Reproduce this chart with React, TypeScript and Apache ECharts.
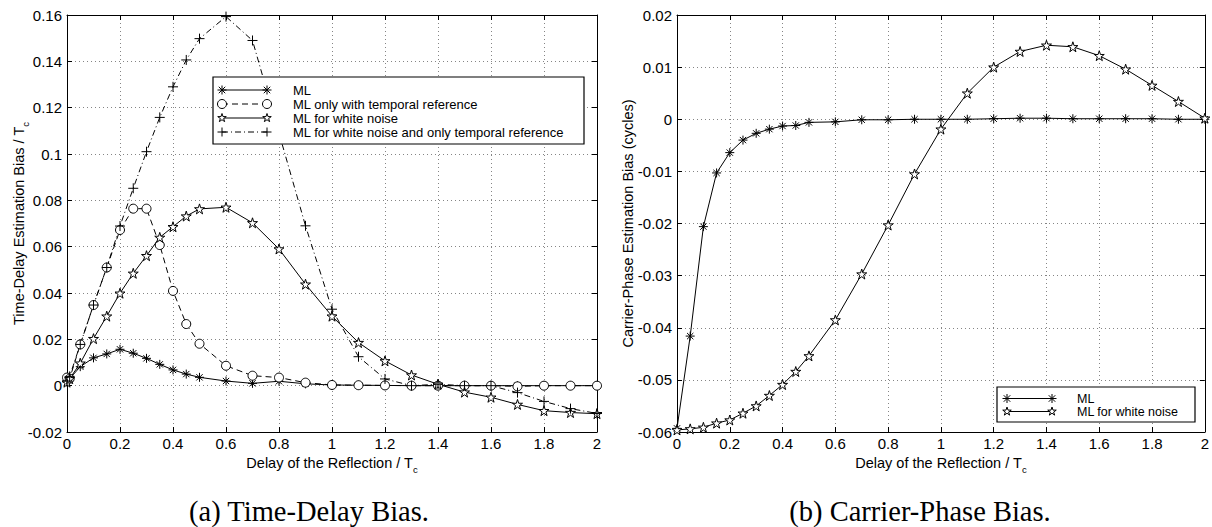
import { useEffect, useRef } from "react";
import * as echarts from "echarts";

// ---------- data ----------
const delayA = [0, 0.01, 0.05, 0.1, 0.15, 0.2, 0.25, 0.3, 0.35, 0.4, 0.45, 0.5, 0.6, 0.7, 0.8, 0.9, 1.0, 1.1, 1.2, 1.3, 1.4, 1.5, 1.6, 1.7, 1.8, 1.9, 2.0];
const mlA = [0.0015, 0.003, 0.0082, 0.012, 0.0137, 0.0157, 0.014, 0.0118, 0.0092, 0.0068, 0.005, 0.0036, 0.002, 0.001, 0.0019, 0.0008, 0.0003, 0.0002, 0.0001, 0, 0, 0, 0, 0, 0, 0, 0];
const tempRefA = [0.0035, 0.003, 0.0178, 0.0348, 0.051, 0.0672, 0.0764, 0.0764, 0.0607, 0.0409, 0.0266, 0.0181, 0.0086, 0.0043, 0.0035, 0.0013, 0.0003, 0.0002, 0.0001, 0, 0, 0, 0, -0.0003, 0, 0, 0];
const whiteA = [0.0015, 0.003, 0.0097, 0.0203, 0.03, 0.0399, 0.0485, 0.0561, 0.064, 0.0686, 0.0732, 0.0763, 0.077, 0.0703, 0.059, 0.0438, 0.03, 0.0186, 0.0107, 0.0046, 0.0006, -0.0028, -0.005, -0.0081, -0.0108, -0.0116, -0.0121];
const whiteTempA = [0.002, 0.004, 0.0178, 0.0348, 0.051, 0.0689, 0.0852, 0.101, 0.1158, 0.129, 0.1406, 0.1498, 0.1593, 0.149, 0.109, 0.069, 0.033, 0.0125, 0.0029, 0, 0.0006, 0, 0, -0.003, -0.0068, -0.0099, -0.012];

const delayB = [0, 0.05, 0.1, 0.15, 0.2, 0.25, 0.3, 0.35, 0.4, 0.45, 0.5, 0.6, 0.7, 0.8, 0.9, 1.0, 1.1, 1.2, 1.3, 1.4, 1.5, 1.6, 1.7, 1.8, 1.9, 2.0];
const mlB = [-0.0593, -0.0416, -0.0206, -0.0103, -0.0064, -0.004, -0.0027, -0.0019, -0.0013, -0.0012, -0.0006, -0.0005, -0.0001, -0.0001, 0, 0, 0, 0.0001, 0.0002, 0.0002, 0.0001, 0.0001, 0.0001, 0.0001, 0, 0];
const whiteB = [-0.0596, -0.0594, -0.0591, -0.0583, -0.0577, -0.0564, -0.055, -0.053, -0.0509, -0.0484, -0.0454, -0.0385, -0.0297, -0.0203, -0.0105, -0.0019, 0.005, 0.01, 0.013, 0.0142, 0.0139, 0.0122, 0.0096, 0.0065, 0.0034, 0.0002];

const namesA = ["ML", "ML only with temporal reference", "ML for white noise", "ML for white noise and only temporal reference"];
const namesB = ["ML", "ML for white noise"];
const xAxisTitle = "Delay of the Reflection / T{s|c}";
const yTitleA = "Time-Delay Estimation Bias / T{s|c}";
const yTitleB = "Carrier-Phase Estimation Bias (cycles)";
const captionA = "(a) Time-Delay Bias.";
const captionB = "(b) Carrier-Phase Bias.";

// ---------- symbols ----------
const ASTERISK = "path://M5 0L5 10M0 5L10 5M1.5 1.5L8.5 8.5M1.5 8.5L8.5 1.5";
const PLUS = "path://M5 0L5 10M0 5L10 5";
const STAR = "path://M50 0L61.23 34.55L97.55 34.55L68.16 55.9L79.39 90.45L50 69.1L20.61 90.45L31.84 55.9L2.45 34.55L38.77 34.55Z";

const FONT = "'Liberation Sans', Arial, Helvetica, sans-serif";
const SERIF = "'Liberation Serif', 'Times New Roman', serif";
const pairs = (xs: number[], ys: number[]) => xs.map((x, i) => [x, ys[i]]);
const fmt = (v: number) => String(+v.toFixed(4));

const DASH = [6, 4];
const DASHDOT = [6, 3, 1, 3];

function mkSeries(name: string, gi: number, xs: number[], ys: number[], symbol: string, size: number, dash?: number[]) {
  return {
    type: "line",
    name,
    xAxisIndex: gi * 2,
    yAxisIndex: gi * 2,
    data: pairs(xs, ys),
    symbol,
    symbolSize: size,
    showAllSymbol: true,
    lineStyle: { color: "#000", width: 1, type: dash ? dash : "solid" },
    itemStyle: { color: "#fff", borderColor: "#000", borderWidth: 1 },
    emphasis: { disabled: true },
    silent: true,
  };
}

const nameStyle = {
  color: "#000",
  fontSize: 14.5,
  fontFamily: FONT,
  rich: { s: { fontSize: 9.5, fontFamily: FONT, color: "#000", padding: [12, 0, 0, 0] } },
};

function axisX(gi: number, top: boolean) {
  return {
    type: "value",
    gridIndex: gi,
    position: top ? "top" : "bottom",
    min: 0,
    max: 2,
    interval: 0.2,
    axisLine: { show: true, onZero: false, lineStyle: { color: "#000", width: 1 } },
    axisTick: { show: true, inside: true, length: 5, lineStyle: { color: "#000" } },
    axisLabel: top ? { show: false } : { show: true, color: "#000", fontSize: 15, fontFamily: FONT, margin: 4, formatter: fmt },
    splitLine: top ? { show: false } : { show: true, lineStyle: { color: "#666", width: 0.8, type: [1, 3] } },
    name: top ? "" : xAxisTitle,
    nameLocation: "middle",
    nameGap: 20,
    nameMoveOverlap: false,
    nameTextStyle: nameStyle,
  };
}

function axisY(gi: number, right: boolean, min: number, max: number, interval: number, name: string, gap: number) {
  return {
    type: "value",
    gridIndex: gi,
    position: right ? "right" : "left",
    min,
    max,
    interval,
    axisLine: { show: true, onZero: false, lineStyle: { color: "#000", width: 1 } },
    axisTick: { show: true, inside: true, length: 5, lineStyle: { color: "#000" } },
    axisLabel: right ? { show: false } : { show: true, color: "#000", fontSize: 15, fontFamily: FONT, margin: 5, formatter: fmt },
    splitLine: right ? { show: false } : { show: true, lineStyle: { color: "#666", width: 0.8, type: [1, 3] } },
    name: right ? "" : name,
    nameLocation: "middle",
    nameGap: gap,
    nameMoveOverlap: false,
    nameTextStyle: nameStyle,
  };
}

// ---------- legend graphics ----------
const ln = (x1: number, y1: number, x2: number, y2: number, dash?: number[]) => ({
  type: "line",
  z: 101,
  shape: { x1, y1, x2, y2 },
  style: { stroke: "#000", lineWidth: 1, lineDash: dash || null },
});
function markG(kind: string, cx: number, cy: number): any[] {
  const r = 4.5;
  if (kind === "asterisk") {
    const d = r * 0.72;
    return [ln(cx, cy - r, cx, cy + r), ln(cx - r, cy, cx + r, cy), ln(cx - d, cy - d, cx + d, cy + d), ln(cx - d, cy + d, cx + d, cy - d)];
  }
  if (kind === "plus") return [ln(cx, cy - r, cx, cy + r), ln(cx - r, cy, cx + r, cy)];
  if (kind === "circle") return [{ type: "circle", z: 102, shape: { cx, cy, r }, style: { fill: "#fff", stroke: "#000", lineWidth: 1 } }];
  const pts: number[][] = [];
  for (let k = 0; k < 10; k++) {
    const a = -Math.PI / 2 + (k * Math.PI) / 5;
    const rr = k % 2 === 0 ? r : r * 0.382;
    pts.push([cx + rr * Math.cos(a), cy + rr * Math.sin(a)]);
  }
  return [{ type: "polygon", z: 102, shape: { points: pts }, style: { fill: "#fff", stroke: "#000", lineWidth: 1 } }];
}
function legendG(box: number[], x1: number, x2: number, tx: number, rows: number[], names: string[], kinds: string[], dashes: (number[] | undefined)[], fs: number) {
  const els: any[] = [
    { type: "rect", z: 100, shape: { x: box[0], y: box[1], width: box[2], height: box[3] }, style: { fill: "#fff", stroke: "#000", lineWidth: 1.2 } },
  ];
  rows.forEach((y, i) => {
    els.push(ln(x1, y, x2, y, dashes[i]));
    els.push(...markG(kinds[i], x1, y));
    els.push(...markG(kinds[i], x2, y));
    els.push({ type: "text", z: 102, x: tx, y, style: { text: names[i], fontSize: fs, lineHeight: fs, fontFamily: FONT, fill: "#000", align: "left", verticalAlign: "middle" } });
  });
  return els;
}

export default function App() {
  const ref = useRef<HTMLDivElement>(null);
  useEffect(() => {
    if (!ref.current) return;
    const chart = echarts.init(ref.current, null, { renderer: "svg" });
    const graphics = [
      ...legendG([213, 77, 371, 67], 222, 267, 293, [90, 104, 118, 132], namesA, ["asterisk", "circle", "star", "plus"], [undefined, DASH, undefined, DASHDOT], 13),
      ...legendG([997, 387, 198, 35], 1007, 1052, 1077, [398.5, 411.5], namesB, ["asterisk", "star"], [undefined, undefined], 12.5),
      { type: "text", z: 100, x: 309, y: 511, style: { text: captionA, fontSize: 28.5, fontFamily: SERIF, fill: "#000", align: "center", verticalAlign: "middle" } },
      { type: "text", z: 100, x: 920, y: 511, style: { text: captionB, fontSize: 28.5, fontFamily: SERIF, fill: "#000", align: "center", verticalAlign: "middle" } },
    ];
    chart.setOption({
      animation: false,
      backgroundColor: "#fff",
      grid: [
        { left: 67, top: 15, width: 530, height: 417, containLabel: false },
        { left: 677, top: 15, width: 531, height: 417, containLabel: false },
      ],
      xAxis: [axisX(0, false), axisX(0, true), axisX(1, false), axisX(1, true)],
      yAxis: [
        axisY(0, false, -0.02, 0.16, 0.02, yTitleA, 37),
        axisY(0, true, -0.02, 0.16, 0.02, "", 0),
        axisY(1, false, -0.06, 0.02, 0.01, yTitleB, 42),
        axisY(1, true, -0.06, 0.02, 0.01, "", 0),
      ],
      series: [
        mkSeries(namesA[0], 0, delayA, mlA, ASTERISK, 9),
        mkSeries(namesA[1], 0, delayA, tempRefA, "circle", 9, DASH),
        mkSeries(namesA[2], 0, delayA, whiteA, STAR, 10),
        mkSeries(namesA[3], 0, delayA, whiteTempA, PLUS, 10, DASHDOT),
        mkSeries(namesB[0], 1, delayB, mlB, ASTERISK, 9),
        mkSeries(namesB[1], 1, delayB, whiteB, STAR, 10),
      ],
      graphic: { elements: graphics },
    });
    return () => chart.dispose();
  }, []);
  return <div ref={ref} style={{ position: "absolute", left: 0, top: 0, width: 1212, height: 527 }} />;
}
